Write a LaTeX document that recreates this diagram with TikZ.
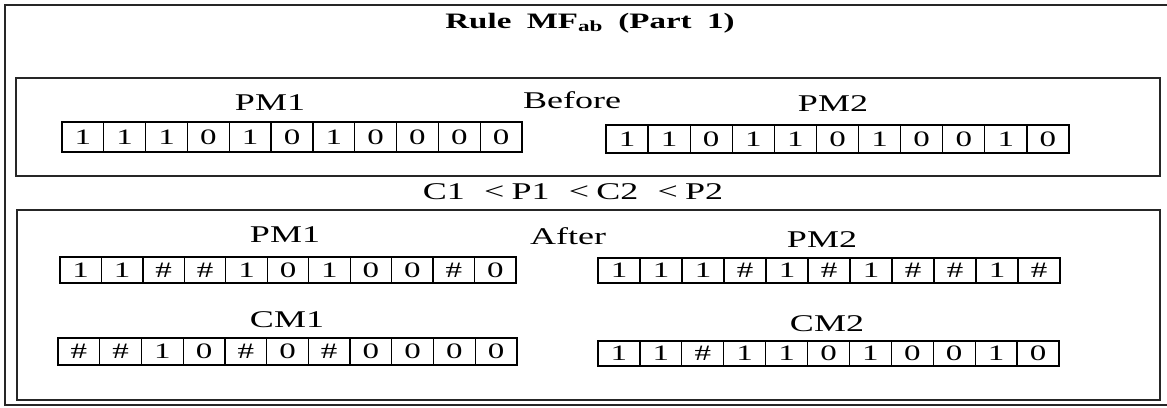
\documentclass[tikz,border=0pt]{standalone}
\usepackage{fontspec}
\setmainfont{Liberation Serif}[FakeStretch=1.5]
% one row of 11 bit cells: name, left x, right x, top y, bottom y, values
\newcommand{\bitrow}[6]{%
  \pgfmathsetmacro\cellw{(#3-#2)/11}%
  \pgfmathsetmacro\cellh{#5-#4}%
  \foreach \v [count=\i] in {#6} {
    \node[cell, minimum width=\cellw pt, minimum height=\cellh pt]
      (#1-\i) at ({#2+(\i-0.5)*\cellw}, {(#4+#5)/2}) {\v};
  }%
}
\begin{document}
\begin{tikzpicture}[x=1pt,y=-1pt,
  frame/.style={line width=1.4pt, black!85},
  cell/.style={draw, line width=1.3pt, inner sep=0pt, font=\fontsize{22}{22}\selectfont},
  lbl/.style={inner sep=0pt, anchor=base, font=\fontsize{24}{24}\selectfont}]
\useasboundingbox (0,0) rectangle (1167,407);
% outer frame (runs off the right edge)
\draw[frame] (1167,5) -- (5,5) -- (5,405) -- (1167,405);
% title
\node[lbl, font=\fontsize{22}{22}\selectfont\bfseries] (title) at (590,28)
  {Rule\hspace{0.7em}MF\textsubscript{ab}\hspace{0.7em}(Part\hspace{0.7em}1)};
% before panel
\draw[frame] (16,78) rectangle (1160,176);
\node[lbl] (lb-pm1) at (270,110) {PM1};
\node[lbl] (lb-before) at (572,108) {Before};
\node[lbl] (lb-pm2) at (833,111) {PM2};
\bitrow{bpm1}{62}{522}{122}{152}{1,1,1,0,1,0,1,0,0,0,0}
\bitrow{bpm2}{606}{1069}{125}{153}{1,1,0,1,1,0,1,0,0,1,0}
% ordering
\node[lbl] (order) at (573,199) {C1\hspace{0.8em}<\hspace{0.3em}P1\hspace{0.8em}<\hspace{0.3em}C2\hspace{0.8em}<\hspace{0.3em}P2};
% after panel
\draw[frame] (17,210) rectangle (1160,400);
\node[lbl] (la-pm1) at (285,242) {PM1};
\node[lbl] (la-after) at (568,244) {After};
\node[lbl] (la-pm2) at (822,247) {PM2};
\bitrow{apm1}{60}{516}{257}{283}{1,1,\#,\#,1,0,1,0,0,\#,0}
\bitrow{apm2}{598}{1060}{258}{283}{1,1,1,\#,1,\#,1,\#,\#,1,\#}
\node[lbl] (la-cm1) at (287,327) {CM1};
\node[lbl] (la-cm2) at (827,331) {CM2};
\bitrow{cm1}{58}{517}{338}{365}{\#,\#,1,0,\#,0,\#,0,0,0,0}
\bitrow{cm2}{598}{1059}{341}{366}{1,1,\#,1,1,0,1,0,0,1,0}
\end{tikzpicture}
\end{document}
